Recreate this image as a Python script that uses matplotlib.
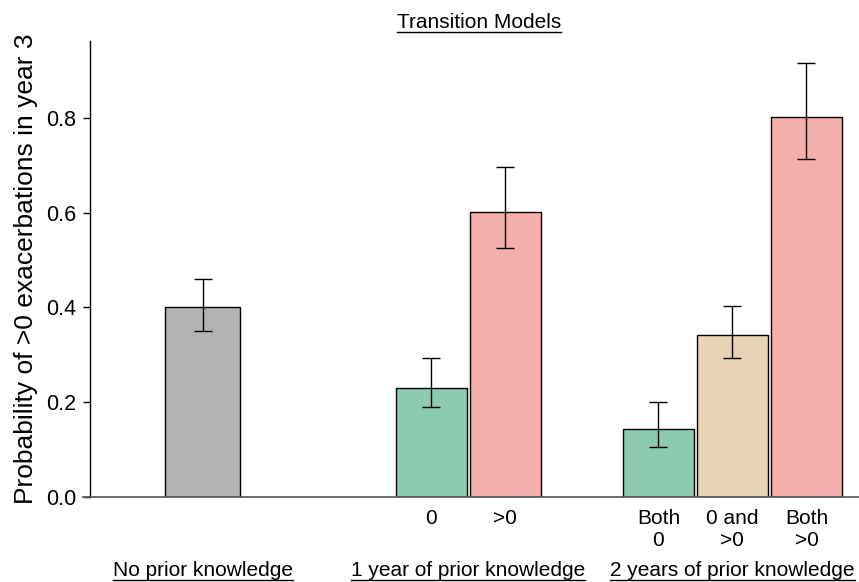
import matplotlib
matplotlib.use("Agg")
import matplotlib.pyplot as plt
from matplotlib.lines import Line2D

plt.rcParams['font.family'] = ['Liberation Sans', 'DejaVu Sans']

# Bar data
categories = ["", "0", ">0", "Both\n0", "0 and\n>0", "Both\n>0"]
positions = [0.0, 3.09, 4.09, 6.16, 7.16, 8.16]
probability = [0.400, 0.230, 0.602, 0.143, 0.342, 0.803]
ci_low = [0.350, 0.190, 0.526, 0.105, 0.293, 0.714]
ci_high = [0.460, 0.293, 0.697, 0.200, 0.403, 0.917]
colors = ["#b3b3b3", "#8ccbb0", "#f4aeab", "#8ccbb0", "#ead2b6", "#f4aeab"]

group_labels = ["No prior knowledge", "1 year of prior knowledge", "2 years of prior knowledge"]
group_centers = [0.0, 3.59, 7.16]

yticks = [0.0, 0.2, 0.4, 0.6, 0.8]

W, H = 859, 582
fig = plt.figure(figsize=(W / 100, H / 100), dpi=100)
ax_left, ax_bottom, ax_top = 90, 496.7, 41
ax = fig.add_axes([ax_left / W, (H - ax_bottom) / H, (W - ax_left) / W, (ax_bottom - ax_top) / H])

widths = [1.01, 0.96, 0.96, 0.96, 0.96, 0.96]
ax.bar(positions, probability, width=widths, color=colors, edgecolor="black",
       linewidth=1.0, zorder=2)
yerr = [[p - lo for p, lo in zip(probability, ci_low)],
        [hi - p for p, hi in zip(probability, ci_high)]]
ax.errorbar(positions, probability, yerr=yerr, fmt="none", ecolor="black",
            elinewidth=1.0, capsize=6.7, capthick=1.0, zorder=3)

ax.set_xlim(-1.52, 8.87)
ax.set_ylim(0, 0.963)
ax.set_yticks(yticks)
ax.set_yticklabels([f"{v:.1f}" for v in yticks], fontsize=15.5)
ax.tick_params(axis="y", length=5, width=1, pad=5, colors="black")
ax.set_xticks(positions[1:])
ax.set_xticklabels(categories[1:], fontsize=15, linespacing=1.2)
ax.tick_params(axis="x", length=0, pad=9)

for side in ("top", "right", "bottom"):
    ax.spines[side].set_visible(False)
ax.spines["left"].set_linewidth(1.0)
ax.axhline(0, color="#555555", linewidth=1.2, zorder=4, clip_on=False)
ax.plot([-1.62, -1.52], [0, 0], color="#555555", linewidth=1.2, clip_on=False,
        transform=ax.transData, zorder=4)

ax.set_ylabel("Probability of >0 exacerbations in year 3", fontsize=19, labelpad=6)


def underlined_text(x, y, s, transform, size):
    t = fig.text(x, y, s, transform=transform, ha="center", va="center", fontsize=size)
    fig.canvas.draw()
    bb = t.get_window_extent(renderer=fig.canvas.get_renderer())
    y_line = bb.y0 + 1
    fig.add_artist(Line2D([bb.x0, bb.x1], [y_line, y_line], transform=None,
                          color="black", linewidth=1.0))
    return t


blended = matplotlib.transforms.blended_transform_factory(ax.transData, fig.transFigure)
for gx, gl in zip(group_centers, group_labels):
    underlined_text(gx, (H - 571) / H, gl, blended, 15)

underlined_text(479 / W, (H - 23) / H, "Transition Models", fig.transFigure, 15)

fig.savefig("out.png", dpi=100)
